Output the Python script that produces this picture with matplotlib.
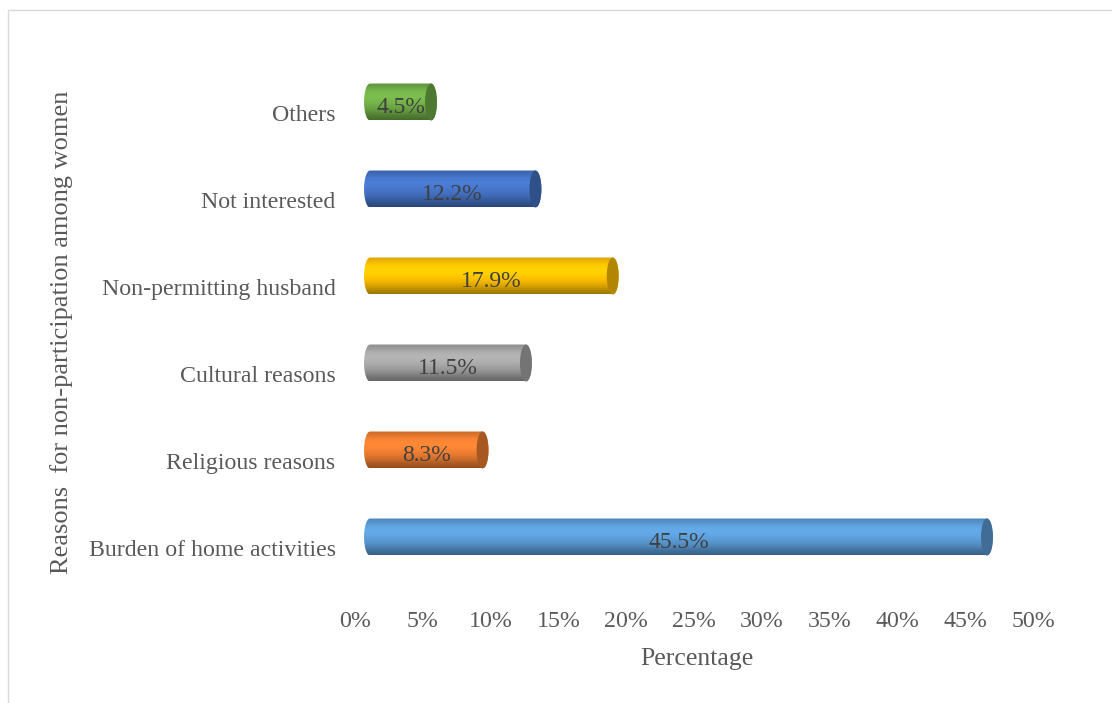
import matplotlib
matplotlib.use("Agg")
import matplotlib.pyplot as plt
import numpy as np
from matplotlib.colors import to_rgb
from matplotlib.patches import Ellipse, PathPatch, Rectangle
from matplotlib.path import Path
from matplotlib.transforms import ScaledTranslation

# reasons listed bottom to top
reasons = ["Burden of home activities", "Religious reasons", "Cultural reasons",
           "Non-permitting husband", "Not interested", "Others"]
percent = [45.5, 8.3, 11.5, 17.9, 12.2, 4.5]
colors = ["#5B9BD5", "#ED7D31", "#A5A5A5", "#FFC000", "#4472C4", "#70AD47"]
xticks = [0, 5, 10, 15, 20, 25, 30, 35, 40, 45, 50]

plt.rcParams["font.family"] = ["Liberation Serif", "DejaVu Serif"]
TXT = "#595959"

fig = plt.figure(figsize=(11.12, 7.03), dpi=100)
ax = fig.add_axes([355 / 1112, 0.1586, 678 / 1112, 522 / 703])
ax.set_xlim(0, 50)
ax.set_ylim(-0.5, 5.5)
for s in ax.spines.values():
    s.set_visible(False)

# 3D depth: bars sit up and to the right of the axis labels
depth = ax.transData + ScaledTranslation(0.15, 0.11, fig.dpi_scale_trans)
label_shift = depth + ScaledTranslation(0, -0.05, fig.dpi_scale_trans)

bar_h = 0.425
cap_w = 0.88  # ellipse width of the cylinder ends, in data units


def shade(color):
    """Vertical gradient for a cylinder: light band near the top, dark bottom."""
    base = np.array(to_rgb(color))
    f = np.array([0.62, 0.72, 0.85, 0.95, 1.02, 1.08, 1.10, 1.06, 0.95, 0.85])
    rows = np.clip(base[None, :] * f[:, None], 0, 1)
    y = np.linspace(0, 1, 64)
    cols = [np.interp(y, np.linspace(0, 1, len(f)), rows[:, k]) for k in range(3)]
    return np.stack(cols, axis=1)[:, None, :]


def body_path(v, yc):
    a, b = cap_w / 2, bar_h / 2
    t1 = np.linspace(np.pi / 2, 3 * np.pi / 2, 30)
    t2 = np.linspace(-np.pi / 2, np.pi / 2, 30)
    left = np.column_stack([a * np.cos(t1), yc + b * np.sin(t1)])
    right = np.column_stack([v + a * np.cos(t2), yc + b * np.sin(t2)])
    pts = np.vstack([left, right, left[:1]])
    return Path(pts, closed=True)


for i, (v, c) in enumerate(zip(percent, colors)):
    clip = PathPatch(body_path(v, i), facecolor="none", edgecolor="none", transform=depth)
    ax.add_patch(clip)
    im = ax.imshow(shade(c), extent=(-cap_w / 2, v + cap_w / 2, i - bar_h / 2, i + bar_h / 2),
                   origin="lower", aspect="auto", interpolation="bilinear", transform=depth)
    im.set_clip_path(clip)
    dark = np.array(to_rgb(c)) * 0.7
    ax.add_patch(Ellipse((v, i), cap_w, bar_h, facecolor=dark, edgecolor="none",
                         transform=depth, zorder=3))
    ax.text(v / 2, i, f"{v}%", transform=label_shift, ha="center", va="center",
            fontsize=17, color="#404040", zorder=4)

ax.set_xlim(0, 50)
ax.set_ylim(-0.5, 5.5)
ax.set_xticks(xticks)
ax.set_xticklabels([f"{t}%" for t in xticks])
ax.set_yticks(range(len(reasons)))
ax.set_yticklabels(reasons)
ax.tick_params(length=0, labelsize=17.2, labelcolor=TXT)
ax.tick_params(axis="x", pad=14)
ax.tick_params(axis="y", pad=14)

fig.text(697 / 1112, 1 - 659 / 703, "Percentage", ha="center", va="center",
         fontsize=18.5, color=TXT)
fig.text(62 / 1112, 1 - 332 / 703, "Reasons  for non-participation among women",
         rotation=90, ha="center", va="center", fontsize=19, color=TXT)

# chart area border
fig.patches.append(Rectangle((8 / 1112, -0.1), 1.2, 1.1 - 10 / 703, transform=fig.transFigure,
                             facecolor="none", edgecolor="#D9D9D9", linewidth=1))

fig.savefig("out.png", dpi=100)
